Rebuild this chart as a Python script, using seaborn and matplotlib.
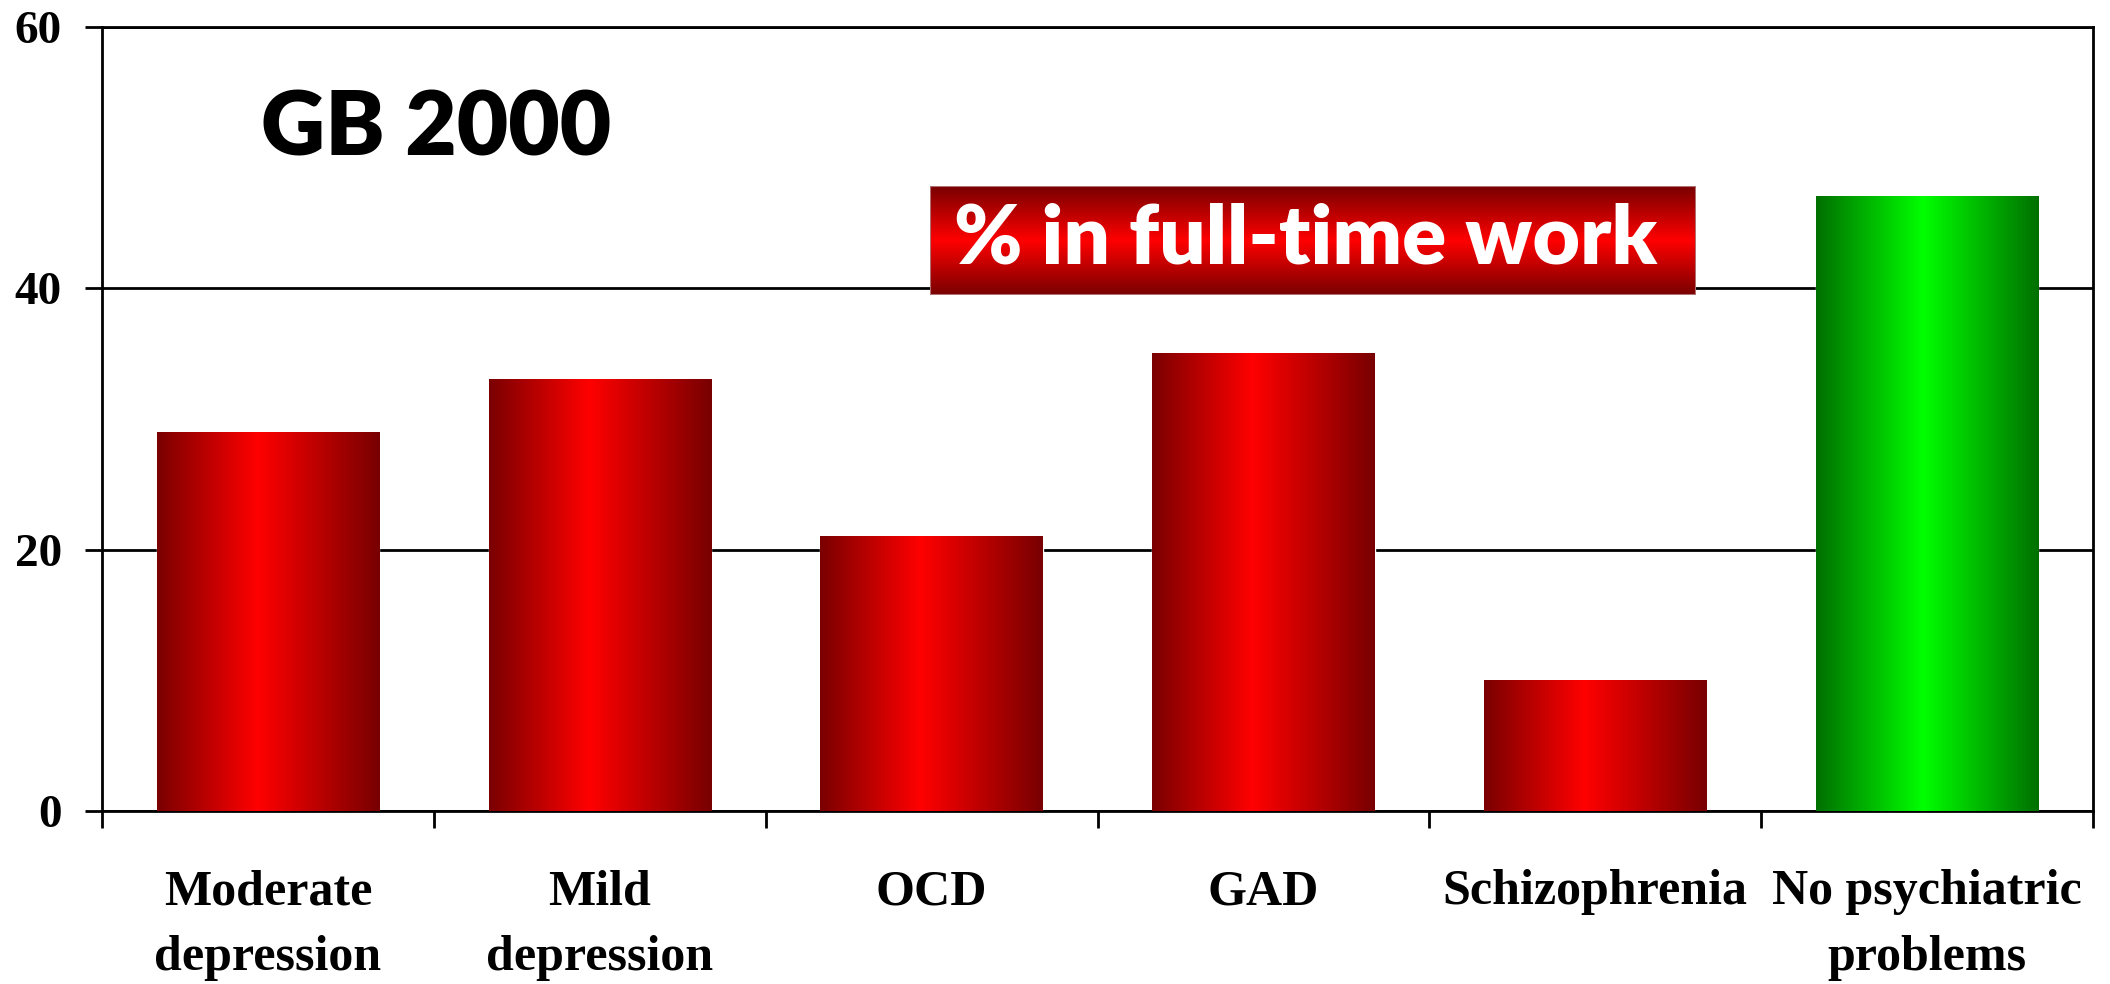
import numpy as np
import seaborn as sns
import matplotlib.pyplot as plt
from matplotlib.colors import LinearSegmentedColormap
from matplotlib.patches import Rectangle

categories = ['Moderate\ndepression', 'Mild\ndepression', 'OCD', 'GAD',
              'Schizophrenia', 'No psychiatric\nproblems']
values = [29, 33, 21, 35, 10, 47]
bar_colors = ['#ff0000', '#ff0000', '#ff0000', '#ff0000', '#ff0000', '#00ff00']
y_ticks = [0, 20, 40, 60]
title_text = 'GB 2000'
box_text = '% in full-time work'

sns.set_style('white')
plt.rcParams['font.family'] = ['Liberation Serif', 'DejaVu Serif']

red_map = LinearSegmentedColormap.from_list('red_grad', [(0, '#7a0000'), (0.45, '#ff0000'), (1, '#780000')])
green_map = LinearSegmentedColormap.from_list('green_grad', [(0, '#007000'), (0.48, '#00ff00'), (1, '#007000')])

fig = plt.figure(figsize=(21.1, 9.84), dpi=100)
ax = fig.add_axes([102 / 2110, 1 - 811 / 984, 1991 / 2110, 784 / 984])

sns.barplot(x=categories, y=values, hue=categories, palette=bar_colors,
            width=0.67, legend=False, ax=ax, zorder=2)

# gradient fill over each bar
grad = np.linspace(0, 1, 256)[None, :]
for patch, col in zip(ax.patches, bar_colors):
    x0, w, h = patch.get_x(), patch.get_width(), patch.get_height()
    cmap = green_map if col == '#00ff00' else red_map
    ax.imshow(grad, extent=[x0, x0 + w, 0, h], cmap=cmap, aspect='auto',
              interpolation='bicubic', zorder=3)

ax.set_xlim(-0.5, len(categories) - 0.5)
ax.set_ylim(0, 60)
ax.set_yticks(y_ticks)
ax.set_xticks(range(len(categories)))
ax.set_xticklabels(categories, fontsize=36, fontweight='bold', linespacing=1.55, color='black')
ax.set_xticks(np.arange(-0.5, len(categories)), minor=True)
for lab in ax.get_yticklabels():
    lab.set_fontsize(34)
    lab.set_fontweight('bold')
    lab.set_color('black')

ax.tick_params(axis='x', which='major', length=0, pad=42)
ax.tick_params(axis='x', which='minor', bottom=True, length=12, width=2, color='black', direction='out')
ax.tick_params(axis='y', length=12, width=2, color='black', direction='out', pad=17, left=True)
ax.set_xlabel('')
ax.set_ylabel('')

ax.grid(axis='y', color='black', linewidth=2)
ax.set_axisbelow(True)
for side in ['left', 'right', 'bottom', 'top']:
    ax.spines[side].set_visible(True)
    ax.spines[side].set_color('black')
    ax.spines[side].set_linewidth(2)

ax.text(0.168, 0.869, title_text, transform=ax.transAxes, ha='center', va='center',
        fontsize=64, fontweight='heavy', family=['Lato', 'DejaVu Sans'], color='black')

# red label box with vertical gradient
box_ax = fig.add_axes([930 / 2110, 1 - 295 / 984, 766 / 2110, 109 / 984])
vgrad = np.linspace(0, 1, 256)[:, None]
box_map = LinearSegmentedColormap.from_list('box_grad', [(0, '#780000'), (0.5, '#ff0000'), (1, '#780000')])
box_ax.imshow(vgrad, cmap=box_map, aspect='auto', extent=[0, 1, 0, 1], interpolation='bicubic')
box_ax.add_patch(Rectangle((0, 0), 1, 1, fill=False, edgecolor='#b07070', linewidth=1.5))
box_ax.set_xlim(0, 1)
box_ax.set_ylim(0, 1)
box_ax.axis('off')
box_ax.text(0.49, 0.5, box_text, ha='center', va='center', color='white',
            fontsize=59, fontweight='heavy', family=['Lato', 'DejaVu Sans'])

fig.savefig('out.png', dpi=100)
